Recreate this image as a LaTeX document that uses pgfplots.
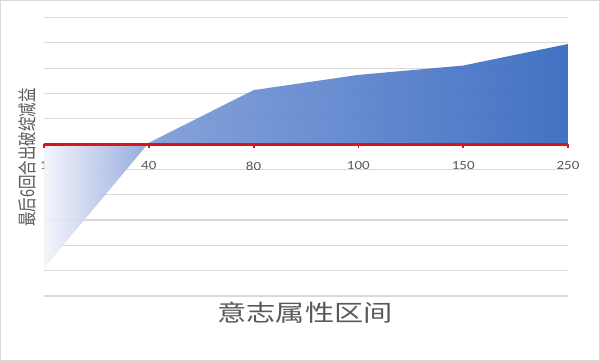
\documentclass[border=0pt]{standalone}
\usepackage{graphicx}
\usepackage{pgfplots}
\pgfplotsset{compat=1.18}
\usepackage{fontspec}
\setmainfont{Carlito}
\newfontfamily\cjk{Noto Sans CJK SC}
\newfontfamily\cjkwide[FakeStretch=1.27]{Noto Sans CJK SC}
\newfontfamily\tickfont[FakeStretch=1.2]{Carlito}

\definecolor{gridgray}{HTML}{D9D9D9}
\definecolor{framegray}{HTML}{D9D9D9}
\definecolor{labelgray}{HTML}{595959}
\definecolor{zerored}{HTML}{D8141C}
\definecolor{gradA}{HTML}{F3F5FB}
\definecolor{gradN}{HTML}{97ACDD}
\definecolor{gradB}{HTML}{7B9AD7}
\definecolor{gradC}{HTML}{3366BF}

% horizontal gradient: pale at the first category, deep blue at the last
\pgfdeclarehorizontalshading{areagrad}{100bp}{%
  color(0bp)=(gradA); color(25bp)=(gradA); color(34bp)=(gradN);
  color(36bp)=(gradB); color(75bp)=(gradC); color(100bp)=(gradC)}

% grid below the area, labels above it
\pgfplotsset{
  layers/gridbelow/.define layer set={
    axis background, axis grid, main, axis ticks, axis lines,
    axis tick labels, axis descriptions, axis foreground}{},
}

\pgfplotstableread{
idx value
0  -4.90
1   0.05
2   2.13
3   2.73
4   3.10
5   3.95
}\debufftable

\begin{document}
\begin{tikzpicture}
\path (0,0) rectangle (600pt,361pt);
\draw[framegray, line width=0.8pt, overlay] (0.6pt,0.6pt) rectangle (599.4pt,360.4pt);

\begin{axis}[
  set layers=gridbelow,
  at={(44pt,65pt)}, anchor=south west,
  scale only axis, width=524pt, height=278.6pt,
  xmin=0, xmax=5, ymin=-6, ymax=5,
  axis x line*=bottom,
  axis y line*=left,
  y axis line style={draw=none},
  x axis line style={draw=none},
  xtick={0,...,5},
  xticklabels={1,40,80,100,150,250},
  xtick style={draw=none},
  tick align=outside,
  major tick length=4pt,
  % category names sit just under the zero line (6 units above ymin)
  xticklabel style={font=\tickfont\fontsize{12.5}{12.5}\selectfont, text=labelgray, yshift=141.96pt},
  ytick={-6,...,5},
  yticklabels={},
  ytick style={draw=none},
  ymajorgrids,
  major grid style={gridgray, line width=1.1pt},
  clip=false,
]
\addplot[draw=none, shading=areagrad, fill opacity=0.92]
  table[x=idx, y=value] {\debufftable} \closedcycle;
% small red ticks under the zero line at each category
\addplot[zerored, line width=1.8pt, ycomb, forget plot]
  coordinates {(0,-0.16) (1,-0.16) (2,-0.16) (3,-0.16) (4,-0.16) (5,-0.16)};
% red zero line across all categories
\addplot[zerored, line width=3pt] coordinates {(0,0) (5,0)};
\end{axis}

\node[rotate=90, text=labelgray, inner sep=0pt] at (27.5pt,203.5pt)
  {\scalebox{1}[1.3]{\cjk\fontsize{14.5}{14.5}\selectfont 最后6回合出破绽减益}};

\node[text=labelgray, inner sep=0pt] at (305pt,48pt)
  {\cjkwide\fontsize{23}{23}\selectfont 意志属性区间};
\end{tikzpicture}
\end{document}
